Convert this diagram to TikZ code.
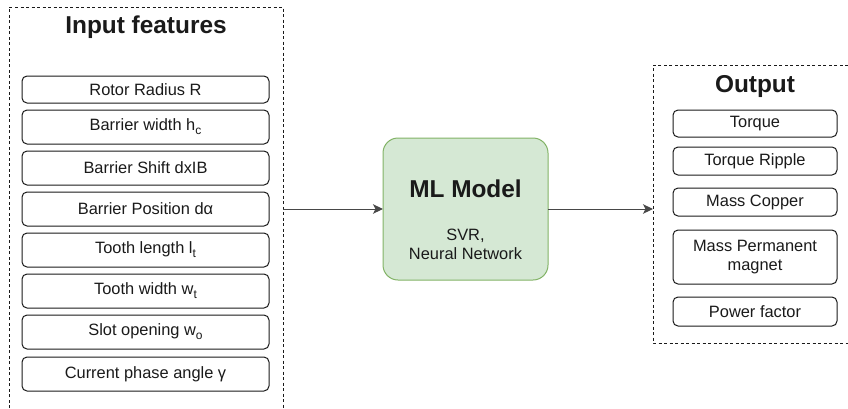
\documentclass[tikz,border=0pt]{standalone}
\usepackage{fontspec}
\setmainfont{Liberation Sans}
\usetikzlibrary{arrows.meta}

\definecolor{mlfill}{HTML}{D5E8D4}
\definecolor{mlline}{HTML}{82B366}
\definecolor{ink}{HTML}{1A1A1A}

% subscript set lower and larger than \textsubscript
\newcommand{\lowsub}[1]{\raisebox{-0.45ex}{\fontsize{12}{12}\selectfont #1}}

\tikzset{
  groupframe/.style={draw=none, inner sep=0pt, outer sep=0pt},
  framedash/.style={draw=ink, line width=0.9pt, dash pattern=on 3pt off 2.5pt},
  featbox/.style={draw=ink, line width=1pt, rounded corners=5pt, fill=white,
    inner sep=0pt, outer sep=0pt, minimum width=247pt, minimum height=34pt,
    font=\fontsize{16.4}{19}\selectfont, text=ink},
  outbox/.style={featbox, minimum width=164pt, minimum height=28pt, align=center},
  grouptitle/.style={font=\fontsize{24.4}{29}\selectfont\bfseries, text=ink, inner sep=0pt},
  modelbox/.style={draw=mlline, line width=1pt, fill=mlfill, rounded corners=15pt,
    minimum width=165pt, minimum height=142pt, inner sep=0pt, outer sep=0pt},
  modeltext/.style={font=\fontsize{16.4}{19}\selectfont, text=ink, inner sep=0pt, align=center},
  flow/.style={draw=ink!80, line width=1pt, -{Stealth[length=10pt,width=9.5pt,inset=2.5pt]}},
}

\begin{document}
\begin{tikzpicture}[x=1pt, y=-1pt]
\useasboundingbox (0,0) rectangle (848,408);

% input group (open at the bottom)
\node[groupframe, minimum width=274pt, minimum height=401pt] (inframe) at (146,207.5) {};
\draw[framedash] (inframe.south west) -- (inframe.north west) -- (inframe.north east) -- (inframe.south east);
\node[grouptitle] (intitle) at (146,27) {Input features};

\node[featbox, minimum height=27pt] (f1) at (145.5,89.5) {Rotor Radius R};
\node[featbox] (f2) at (145.5,127) {Barrier width h\lowsub{c}};
\node[featbox] (f3) at (145.5,168) {Barrier Shift dxIB};
\node[featbox] (f4) at (145.5,209) {Barrier Position dα};
\node[featbox] (f5) at (145.5,250) {Tooth length l\lowsub{t}};
\node[featbox] (f6) at (145.5,291) {Tooth width w\lowsub{t}};
\node[featbox] (f7) at (145.5,332) {Slot opening w\lowsub{o}};
\node[featbox] (f8) at (145.5,374) {Current phase angle γ};

% model
\node[modelbox] (ml) at (465.5,209) {};
\node[grouptitle] (mltitle) at (465.5,189) {ML Model};
\node[modeltext] (mlsub) at (465.5,244.5) {SVR,\\Neural Network};

% output group (open on the right)
\node[groupframe, minimum width=195pt, minimum height=278pt] (outframe) at (750.5,204) {};
\draw[framedash] (outframe.north east) -- (outframe.north west) -- (outframe.south west) -- (outframe.south east);
\node[grouptitle] (outtitle) at (755,87) {Output};

\node[outbox, minimum height=27pt] (o1) at (755,123.5) {Torque};
\node[outbox] (o2) at (755,161) {Torque Ripple};
\node[outbox] (o3) at (755,202) {Mass Copper};
\node[outbox, minimum height=54pt] (o4) at (755,257) {Mass Permanent\\magnet};
\node[outbox, minimum height=29pt] (o5) at (755,311.5) {Power factor};

% data flow
\draw[flow] (inframe.east |- ml.west) -- (ml.west);
\draw[flow] (ml.east) -- (ml.east -| outframe.west);
\end{tikzpicture}
\end{document}
